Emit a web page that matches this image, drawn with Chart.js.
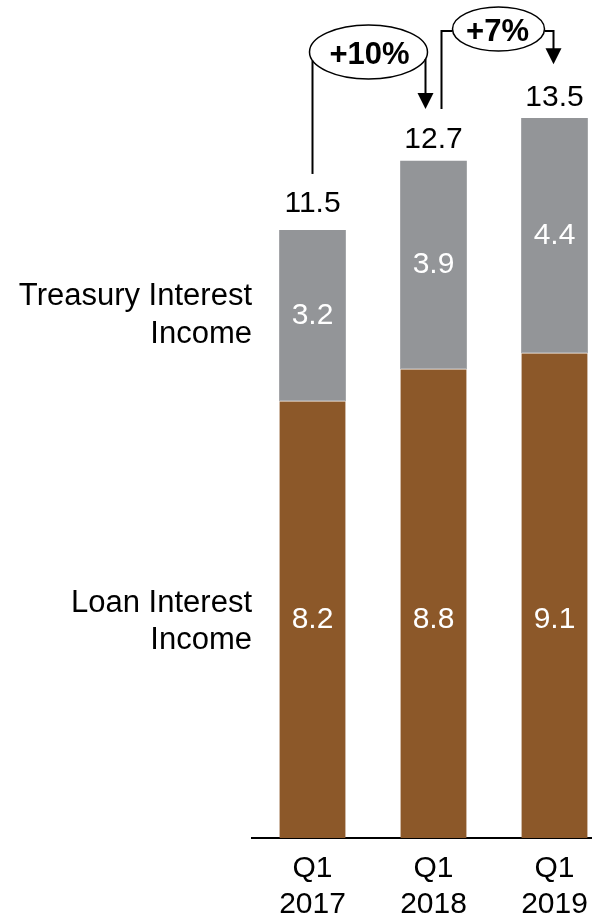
<!DOCTYPE html>
<html>
<head>
<meta charset="utf-8">
<script src="https://cdn.jsdelivr.net/npm/chart.js@4"></script>
<style>
  html, body { margin: 0; padding: 0; background: #fff; }
  #wrap { width: 592px; height: 922px; overflow: hidden; position: relative; }
  #chart { display: block; }
</style>
</head>
<body>
<div id="wrap"><canvas id="chart" width="615" height="922"></canvas></div>
<script>
// Net interest income by source, first quarter of each year
const quarters = [['Q1', '2017'], ['Q1', '2018'], ['Q1', '2019']];
const loanIncome = [8.2, 8.8, 9.1];
const treasuryIncome = [3.2, 3.9, 4.4];
const totalIncome = [11.5, 12.7, 13.5];
const growthLabels = ['+10%', '+7%'];
const loanName = ['Loan Interest', 'Income'];
const treasuryName = ['Treasury Interest', 'Income'];

const BROWN = '#8C5829';
const GREY = '#939598';
const FONT = '"Liberation Sans", Arial, sans-serif';

function arrowDown(ctx, x, yTip) {
  ctx.beginPath();
  ctx.moveTo(x - 8, yTip - 16);
  ctx.lineTo(x + 8, yTip - 16);
  ctx.lineTo(x, yTip);
  ctx.closePath();
  ctx.fill();
}

const labelsPlugin = {
  id: 'labelsPlugin',
  afterDatasetsDraw(chart) {
    const ctx = chart.ctx;
    const y = chart.scales.y;
    const x = chart.scales.x;
    const loanMeta = chart.getDatasetMeta(0);
    const tMeta = chart.getDatasetMeta(1);
    ctx.save();
    ctx.textAlign = 'center';
    ctx.textBaseline = 'middle';
    ctx.font = '30px ' + FONT;

    // segment values
    ctx.fillStyle = '#fff';
    const loanLabelY = y.getPixelForValue(loanIncome[0] / 2);
    loanMeta.data.forEach((bar, i) => {
      ctx.fillText(loanIncome[i].toFixed(1), bar.x, loanLabelY);
    });
    tMeta.data.forEach((bar, i) => {
      ctx.fillText(treasuryIncome[i].toFixed(1), bar.x, (bar.y + bar.base) / 2);
    });

    // totals
    ctx.fillStyle = '#000';
    tMeta.data.forEach((bar, i) => {
      ctx.fillText(totalIncome[i].toFixed(1), bar.x, y.getPixelForValue(totalIncome[i]) - 21);
    });

    // series names on the left
    ctx.textAlign = 'right';
    ctx.font = '31px ' + FONT;
    const left = chart.chartArea.left;
    const tb = tMeta.data[0];
    const tMid = (tb.y + tb.base) / 2;
    ctx.fillText(treasuryName[0], left, tMid - 19);
    ctx.fillText(treasuryName[1], left, tMid + 19);
    ctx.fillText(loanName[0], left, loanLabelY - 16);
    ctx.fillText(loanName[1], left, loanLabelY + 21);

    // growth callouts
    ctx.strokeStyle = '#000';
    ctx.fillStyle = '#000';
    ctx.lineWidth = 2;
    const top = i => y.getPixelForValue(totalIncome[i]);
    const x0 = x.getPixelForValue(0), x1 = x.getPixelForValue(1), x2 = x.getPixelForValue(2);

    // first callout
    let cx = x0 + 56, cy = 52, rx = 59, ry = 27;
    const edgeY = (px) => cy + ry * Math.sqrt(Math.max(0, 1 - Math.pow((px - cx) / rx, 2)));
    ctx.beginPath();
    ctx.moveTo(x0, top(0) - 51);
    ctx.lineTo(x0, edgeY(x0));
    ctx.stroke();
    const ax1 = x1 - 8;
    ctx.beginPath();
    ctx.moveTo(ax1, edgeY(ax1));
    ctx.lineTo(ax1, top(1) - 60);
    ctx.stroke();
    arrowDown(ctx, ax1, top(1) - 52);
    ctx.lineWidth = 1.5;
    ctx.beginPath();
    ctx.ellipse(cx, cy, rx, ry, 0, 0, Math.PI * 2);
    ctx.stroke();
    ctx.font = 'bold 31px ' + FONT;
    ctx.textAlign = 'center';
    ctx.fillText(growthLabels[0], cx + 1, cy + 3);

    // second callout
    cx = x1 + 65; cy = 29; rx = 46; ry = 22;
    ctx.lineWidth = 2;
    const bx = x1 + 8;
    ctx.beginPath();
    ctx.moveTo(bx, top(1) - 52);
    ctx.lineTo(bx, cy + 2);
    ctx.lineTo(cx - rx, cy + 2);
    ctx.stroke();
    const ax2 = x2 - 1;
    ctx.beginPath();
    ctx.moveTo(cx + rx, cy + 2);
    ctx.lineTo(ax2, cy + 2);
    ctx.lineTo(ax2, top(2) - 62);
    ctx.stroke();
    arrowDown(ctx, ax2, top(2) - 54);
    ctx.lineWidth = 1.5;
    ctx.beginPath();
    ctx.ellipse(cx, cy, rx, ry, 0, 0, Math.PI * 2);
    ctx.stroke();
    ctx.fillText(growthLabels[1], cx - 1, cy + 3);

    ctx.restore();
  }
};

new Chart(document.getElementById('chart'), {
  type: 'bar',
  data: {
    labels: quarters,
    datasets: [
      {
        label: loanName.join(' '),
        data: loanIncome,
        backgroundColor: BROWN,
        borderColor: '#fff',
        borderWidth: { top: 1, left: 0, right: 0, bottom: 0 },
        borderSkipped: false,
        barThickness: 66
      },
      {
        label: treasuryName.join(' '),
        data: treasuryIncome,
        backgroundColor: GREY,
        borderWidth: 0,
        barThickness: 66
      }
    ]
  },
  options: {
    responsive: false,
    animation: false,
    events: [],
    layout: { padding: { left: 252, right: 0, top: 0, bottom: 0 } },
    plugins: { legend: { display: false }, tooltip: { enabled: false } },
    scales: {
      x: {
        stacked: true,
        offset: true,
        grid: { display: false, drawTicks: false },
        border: { display: true, color: '#000', width: 2 },
        ticks: {
          color: '#000',
          padding: 13,
          maxRotation: 0,
          autoSkip: false,
          font: { family: FONT, size: 30, lineHeight: 36 / 30 }
        },
        afterFit(scale) { scale.height = 84; }
      },
      y: {
        stacked: true,
        display: false,
        min: 0,
        max: 15.72
      }
    }
  },
  plugins: [labelsPlugin]
});
</script>
</body>
</html>
